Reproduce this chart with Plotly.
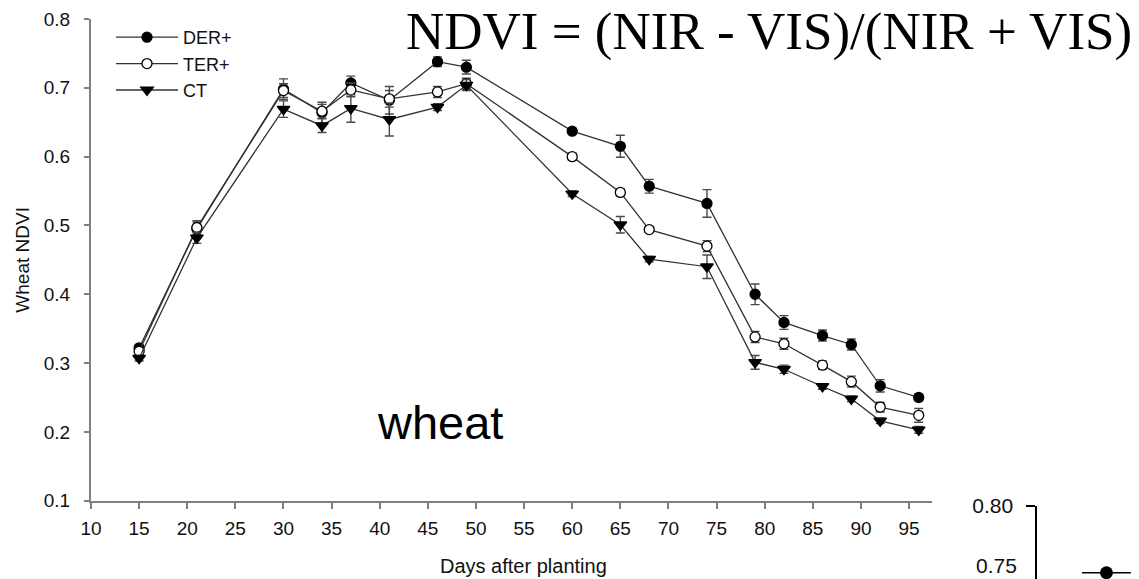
import plotly.graph_objects as go

# Wheat NDVI by treatment over the season (mean ± SE)
days = [15, 21, 30, 34, 37, 41, 46, 49, 60, 65, 68, 74, 79, 82, 86, 89, 92, 96]

der = [0.322, 0.495, 0.698, 0.664, 0.707, 0.682, 0.738, 0.730, 0.637, 0.615,
       0.557, 0.532, 0.400, 0.359, 0.340, 0.327, 0.267, 0.250]
der_se = [0.005, 0.010, 0.015, 0.015, 0.010, 0.020, 0.007, 0.010, 0.004, 0.016,
          0.010, 0.020, 0.015, 0.010, 0.008, 0.008, 0.009, 0.005]

ter = [0.317, 0.497, 0.696, 0.666, 0.697, 0.684, 0.694, 0.706, 0.600, 0.548,
       0.494, 0.470, 0.338, 0.328, 0.297, 0.273, 0.236, 0.224]
ter_se = [0.005, 0.010, 0.010, 0.010, 0.010, 0.012, 0.008, 0.008, 0.005, 0.005,
          0.004, 0.008, 0.008, 0.008, 0.006, 0.008, 0.007, 0.010]

ct = [0.307, 0.482, 0.669, 0.645, 0.670, 0.654, 0.672, 0.704, 0.546, 0.501,
      0.451, 0.440, 0.301, 0.291, 0.266, 0.248, 0.216, 0.203]
ct_se = [0.004, 0.008, 0.012, 0.010, 0.020, 0.024, 0.005, 0.008, 0.004, 0.012,
         0.004, 0.017, 0.010, 0.006, 0.004, 0.004, 0.004, 0.005]

x_ticks = list(range(10, 100, 5))
y_ticks = [0.1, 0.2, 0.3, 0.4, 0.5, 0.6, 0.7, 0.8]

# top of the neighbouring panel (cropped at the bottom edge)
inset_x = [0.68]
inset_y = [0.7564]
inset_xerr = [0.24]
inset_ticks = [0.80]

SANS = "Liberation Sans, Arial, sans-serif"
SERIF = "Liberation Serif, Times New Roman, serif"
LINE_C = "#333333"
ERR_C = "#4a4a4a"


def series(name, y, se, symbol, fill, size):
    return go.Scatter(
        x=days, y=y, name=name, mode="lines+markers",
        line=dict(color=LINE_C, width=1.3),
        marker=dict(symbol=symbol, size=size, color=fill,
                    line=dict(color="black", width=1.3)),
        error_y=dict(type="data", array=se, visible=True,
                     color=ERR_C, thickness=1.4, width=4.5),
        xaxis="x", yaxis="y",
    )


fig = go.Figure()
fig.add_trace(series("DER+", der, der_se, "circle", "black", 10))
fig.add_trace(series("TER+", ter, ter_se, "circle", "white", 10))
fig.add_trace(series("CT", ct, ct_se, "triangle-down", "black", 11))

fig.add_trace(go.Scatter(
    x=inset_x, y=inset_y, mode="markers", showlegend=False,
    marker=dict(symbol="circle", size=13, color="black"),
    error_x=dict(type="data", array=inset_xerr, visible=True,
                 color="black", thickness=1.6, width=0),
    xaxis="x2", yaxis="y2",
))

W, H = 1139, 579
ML, MT = 91, 19
PW, PH = W - ML, H - MT


def px_x(p):
    return (p - ML) / PW


def px_y(p):
    return (H - p) / PH


fig.update_layout(
    width=W, height=H,
    margin=dict(l=ML, r=0, t=MT, b=0, pad=0, autoexpand=False),
    paper_bgcolor="white", plot_bgcolor="white",
    font=dict(family=SANS, color="#111111"),
    showlegend=True,
    legend=dict(
        x=px_x(111), y=px_y(19), xanchor="left", yanchor="top",
        font=dict(family=SANS, size=18, color="#111111"),
        itemwidth=62, tracegroupgap=0, bgcolor="rgba(0,0,0,0)",
    ),
    xaxis=dict(
        domain=[0, px_x(931.7)], range=[10, 97.35],
        tickvals=x_ticks, ticks="outside", ticklen=6, tickwidth=1.5,
        tickcolor="#808080", showline=True, linecolor="#808080", linewidth=2,
        showgrid=False, zeroline=False,
        tickfont=dict(family=SANS, size=19, color="#111111"),
        ticklabelstandoff=3, anchor="y",
    ),
    yaxis=dict(
        domain=[px_y(500.7), 1], range=[0.1, 0.8],
        tickvals=y_ticks, tickformat=".1f", ticks="outside", ticklen=5,
        tickwidth=1.5, tickcolor="#808080", showline=True, linecolor="#808080",
        linewidth=2, showgrid=False, zeroline=False,
        tickfont=dict(family=SANS, size=19, color="#111111"),
        ticklabelstandoff=10, anchor="x",
        title=dict(text="Wheat NDVI", font=dict(family=SANS, size=19,
                                                color="#111111"),
                   standoff=9),
    ),
    xaxis2=dict(
        domain=[px_x(1037.3), 1], range=[0, 1], visible=False,
        anchor="y2",
    ),
    yaxis2=dict(
        domain=[0, px_y(506)], range=[0.7523, 0.80],
        tickvals=inset_ticks, tickformat=".2f", ticks="outside", ticklen=9,
        tickwidth=1.6, tickcolor="black", showline=True, linecolor="black",
        linewidth=1.8, showgrid=False, zeroline=False,
        tickfont=dict(family=SANS, size=21, color="#111111"),
        ticklabelstandoff=9, anchor="x2",
    ),
    annotations=[
        dict(text="NDVI = (NIR - VIS)/(NIR + VIS)", xref="paper", yref="paper",
             x=px_x(769), y=px_y(31), xanchor="center", yanchor="middle",
             showarrow=False,
             font=dict(family=SERIF, size=53, color="black")),
        dict(text="wheat", xref="paper", yref="paper",
             x=px_x(440), y=px_y(422), xanchor="center", yanchor="middle",
             showarrow=False, font=dict(family=SANS, size=47, color="black")),
        dict(text="Days after planting", xref="paper", yref="paper",
             x=px_x(523), y=px_y(566), xanchor="center", yanchor="middle",
             showarrow=False, font=dict(family=SANS, size=20, color="#111111")),
        dict(text="0.75", xref="paper", yref="paper",
             x=px_x(1019), y=px_y(565), xanchor="right", yanchor="middle",
             showarrow=False, font=dict(family=SANS, size=21, color="#111111")),
    ],
)

fig.write_html("out.html")
